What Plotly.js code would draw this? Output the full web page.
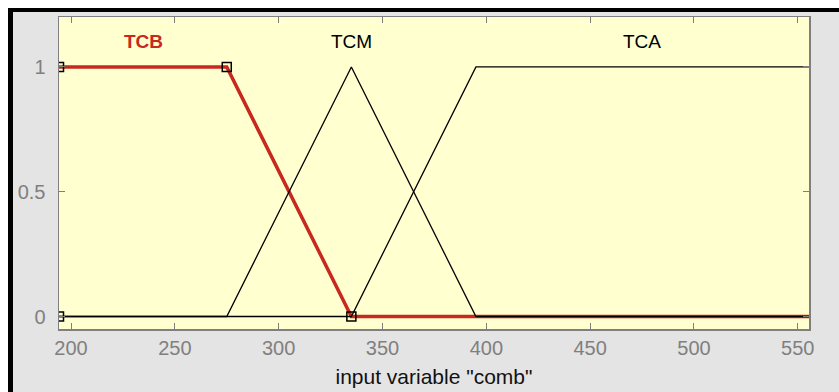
<!DOCTYPE html>
<html>
<head>
<meta charset="utf-8">
<script src="https://cdn.plot.ly/plotly-3.0.1.min.js"></script>
<style>
  html, body { margin: 0; padding: 0; background: #ffffff; width: 839px; height: 392px; overflow: hidden; }
  #wrap { position: absolute; left: 8px; top: 8px; width: 826px; height: 380px;
          border-top: 4px solid #000; border-left: 5px solid #000; background: #e4e4e4; }
  #chart { width: 826px; height: 380px; }
</style>
</head>
<body>
<div id="wrap"><div id="chart"></div></div>
<script>
// Membership functions of input variable "comb"
const xMin = 194.2, xMax = 555.4;
const tcbX = [xMin, 275, 335, xMax];
const tcbY = [1, 1, 0, 0];
const tcmX = [xMin, 275, 335, 395, xMax];
const tcmY = [0, 0, 1, 0, 0];
const tcaX = [xMin, 335, 395, xMax];
const tcaY = [0, 0, 1, 1];
// selected MF (TCB) parameter handles
const handleX = [xMin, xMin, 275, 335];
const handleY = [0, 1, 1, 0];
const mfNames = ["TCB", "TCM", "TCA"];
const mfLabelX = [235, 335, 475];
const xTicks = [200, 250, 300, 350, 400, 450, 500, 550];
const yTicks = [0, 0.5, 1];
const yTickText = ["0", "0.5", "1"];

const red = "#c8281e";
const traces = [
  {x: tcbX, y: tcbY, mode: "lines", line: {color: red, width: 3.5}, hoverinfo: "skip"},
  {x: tcmX, y: tcmY, mode: "lines", line: {color: "#000", width: 1.3}, hoverinfo: "skip"},
  {x: tcaX, y: tcaY, mode: "lines", line: {color: "#000", width: 1.3}, hoverinfo: "skip"},
  {x: handleX, y: handleY, mode: "markers",
   marker: {symbol: "square-open", size: 9, color: "#000", line: {color: "#000", width: 1.5}}, hoverinfo: "skip"}
];

const font = "Liberation Sans, Arial, sans-serif";
const annotations = mfNames.map((n, i) => ({
  x: mfLabelX[i], y: 1.103, xref: "x", yref: "y", text: i === 0 ? "<b>" + n + "</b>" : n,
  showarrow: false, xanchor: "center", yanchor: "middle",
  font: {family: font, size: 19, color: i === 0 ? red : "#000"}
}));

const layout = {
  width: 826, height: 380,
  margin: {l: 46, r: 30, t: 5, b: 63},
  paper_bgcolor: "#e4e4e4",
  plot_bgcolor: "#ffffd0",
  showlegend: false,
  font: {family: font},
  xaxis: {
    range: [xMin, xMax], tickvals: xTicks, ticks: "inside", ticklen: 6, tickcolor: "#7f7f7f",
    showline: true, mirror: "ticks", linecolor: "#7f7f7f", linewidth: 1.5,
    showgrid: false, zeroline: false,
    tickfont: {family: font, size: 20, color: "#808080"},
    title: {text: 'input variable "comb"', font: {family: font, size: 21, color: "#111"}, standoff: 12}
  },
  yaxis: {
    range: [-0.05, 1.2], tickvals: yTicks, ticktext: yTickText, ticks: "inside", ticklen: 6, tickcolor: "#7f7f7f",
    showline: true, mirror: "ticks", linecolor: "#7f7f7f", linewidth: 1.5,
    showgrid: false, zeroline: false, ticklabelstandoff: 8,
    tickfont: {family: font, size: 20, color: "#808080"}
  },
  annotations: annotations
};

Plotly.newPlot("chart", traces, layout, {displayModeBar: false, staticPlot: true});
</script>
</body>
</html>
